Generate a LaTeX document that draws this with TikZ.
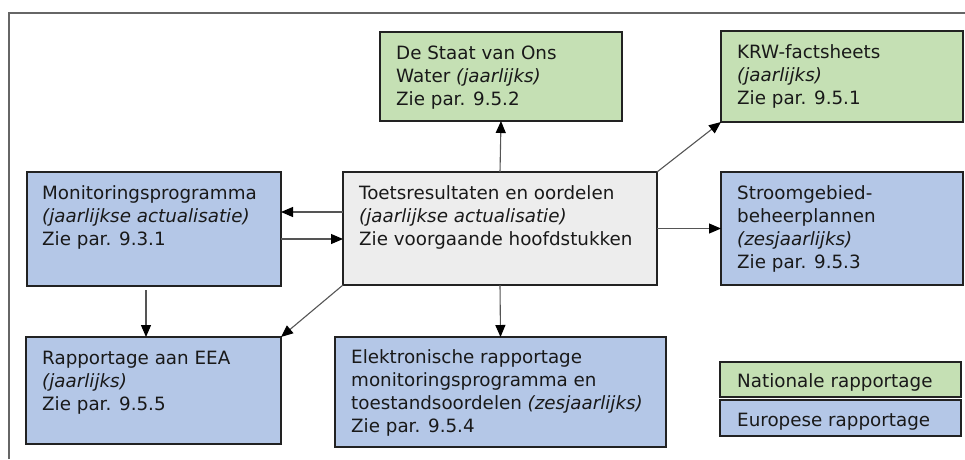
\documentclass[tikz,border=0pt]{standalone}
\usepackage{fontspec}
\setmainfont{DejaVu Sans}
\usetikzlibrary{arrows.meta}
\definecolor{grn}{HTML}{C5E0B4}
\definecolor{blu}{HTML}{B4C7E7}
\definecolor{gry}{HTML}{EDEDED}
\definecolor{edge}{HTML}{222222}
\definecolor{conn}{HTML}{555555}
\definecolor{framec}{HTML}{666666}
\begin{document}
\begin{tikzpicture}[x=1pt,y=-1pt,
  box/.style={draw=edge,line width=1.5pt,rectangle,anchor=north west,inner sep=0pt,outer sep=0pt},
  txt/.style={anchor=base west,align=left,inner sep=0pt,font=\fontsize{18.3}{23}\selectfont,text=black!90},
  arr/.style={draw=conn,line width=1.1pt,-{Triangle[length=12pt,width=10pt,fill=black,color=black]}},
  framel/.style={draw=framec,line width=1.3pt}]
\useasboundingbox (0,0) rectangle (965,459);
% frame
\draw[framel] (9,459) -- (9,13) -- (965,13);
% boxes
\node[box,fill=blu,minimum width=254pt,minimum height=114pt] (mon) at (27,172) {};
\node[box,fill=blu,minimum width=255pt,minimum height=107pt] (rap) at (26,337) {};
\node[box,fill=grn,minimum width=242pt,minimum height=89pt] (staat) at (380,32) {};
\node[box,fill=gry,minimum width=314pt,minimum height=113pt] (toets) at (343,172) {};
\node[box,fill=grn,minimum width=242pt,minimum height=91pt] (krw) at (721,31) {};
\node[box,fill=blu,minimum width=242pt,minimum height=113pt] (stroom) at (721,172) {};
\node[box,fill=blu,minimum width=331pt,minimum height=110pt] (elek) at (335,337) {};
\node[box,fill=grn,minimum width=241pt,minimum height=35pt] (nat) at (720,362) {};
\node[box,fill=blu,minimum width=241pt,minimum height=36pt] (eur) at (720,400) {};
% texts (anchored at the baseline of the last line)
\node[txt] (mont) at ([shift={(15,73)}]mon.north west) {Monitoringsprogramma\\\textit{(jaarlijkse actualisatie)}\\Zie par. 9.3.1};
\node[txt] (rapt) at ([shift={(16,73)}]rap.north west) {Rapportage aan EEA\\\textit{(jaarlijks)}\\Zie par. 9.5.5};
\node[txt] (staatt) at ([shift={(16,73)}]staat.north west) {De Staat van Ons\\Water \textit{(jaarlijks)}\\Zie par. 9.5.2};
\node[txt] (toetst) at ([shift={(16,73)}]toets.north west) {Toetsresultaten en oordelen\\\textit{(jaarlijkse actualisatie)}\\Zie voorgaande hoofdstukken};
\node[txt] (krwt) at ([shift={(16,73)}]krw.north west) {KRW-factsheets\\\textit{(jaarlijks)}\\Zie par. 9.5.1};
\node[txt] (stroomt) at ([shift={(16,96)}]stroom.north west) {Stroomgebied-\\beheerplannen\\\textit{(zesjaarlijks)}\\Zie par. 9.5.3};
\node[txt] (elekt) at ([shift={(16,95)}]elek.north west) {Elektronische rapportage\\monitoringsprogramma en\\toestandsoordelen \textit{(zesjaarlijks)}\\Zie par. 9.5.4};
\node[txt] (natt) at ([shift={(17,25)}]nat.north west) {Nationale rapportage};
\node[txt] (eurt) at ([shift={(17,26)}]eur.north west) {Europese rapportage};
% helper coordinates
\coordinate (ya) at (0,212);
\coordinate (yb) at (0,239);
\coordinate (xm) at (146,0);
\coordinate (ym) at (0,290);
% connectors
\draw[arr] (toets.west |- ya) -- (mon.east |- ya);
\draw[arr] (mon.east |- yb) -- (toets.west |- yb);
\draw[arr] (toets.north) -- (staat.south);
\draw[arr] (toets.north east) -- (krw.south west);
\draw[arr] (toets.east) -- (stroom.west |- toets.east);
\draw[arr] (toets.south) -- (elek.north);
\draw[arr] (toets.south west) -- (rap.north east);
\draw[arr] (xm |- ym) -- (xm |- rap.north);
\end{tikzpicture}
\end{document}
